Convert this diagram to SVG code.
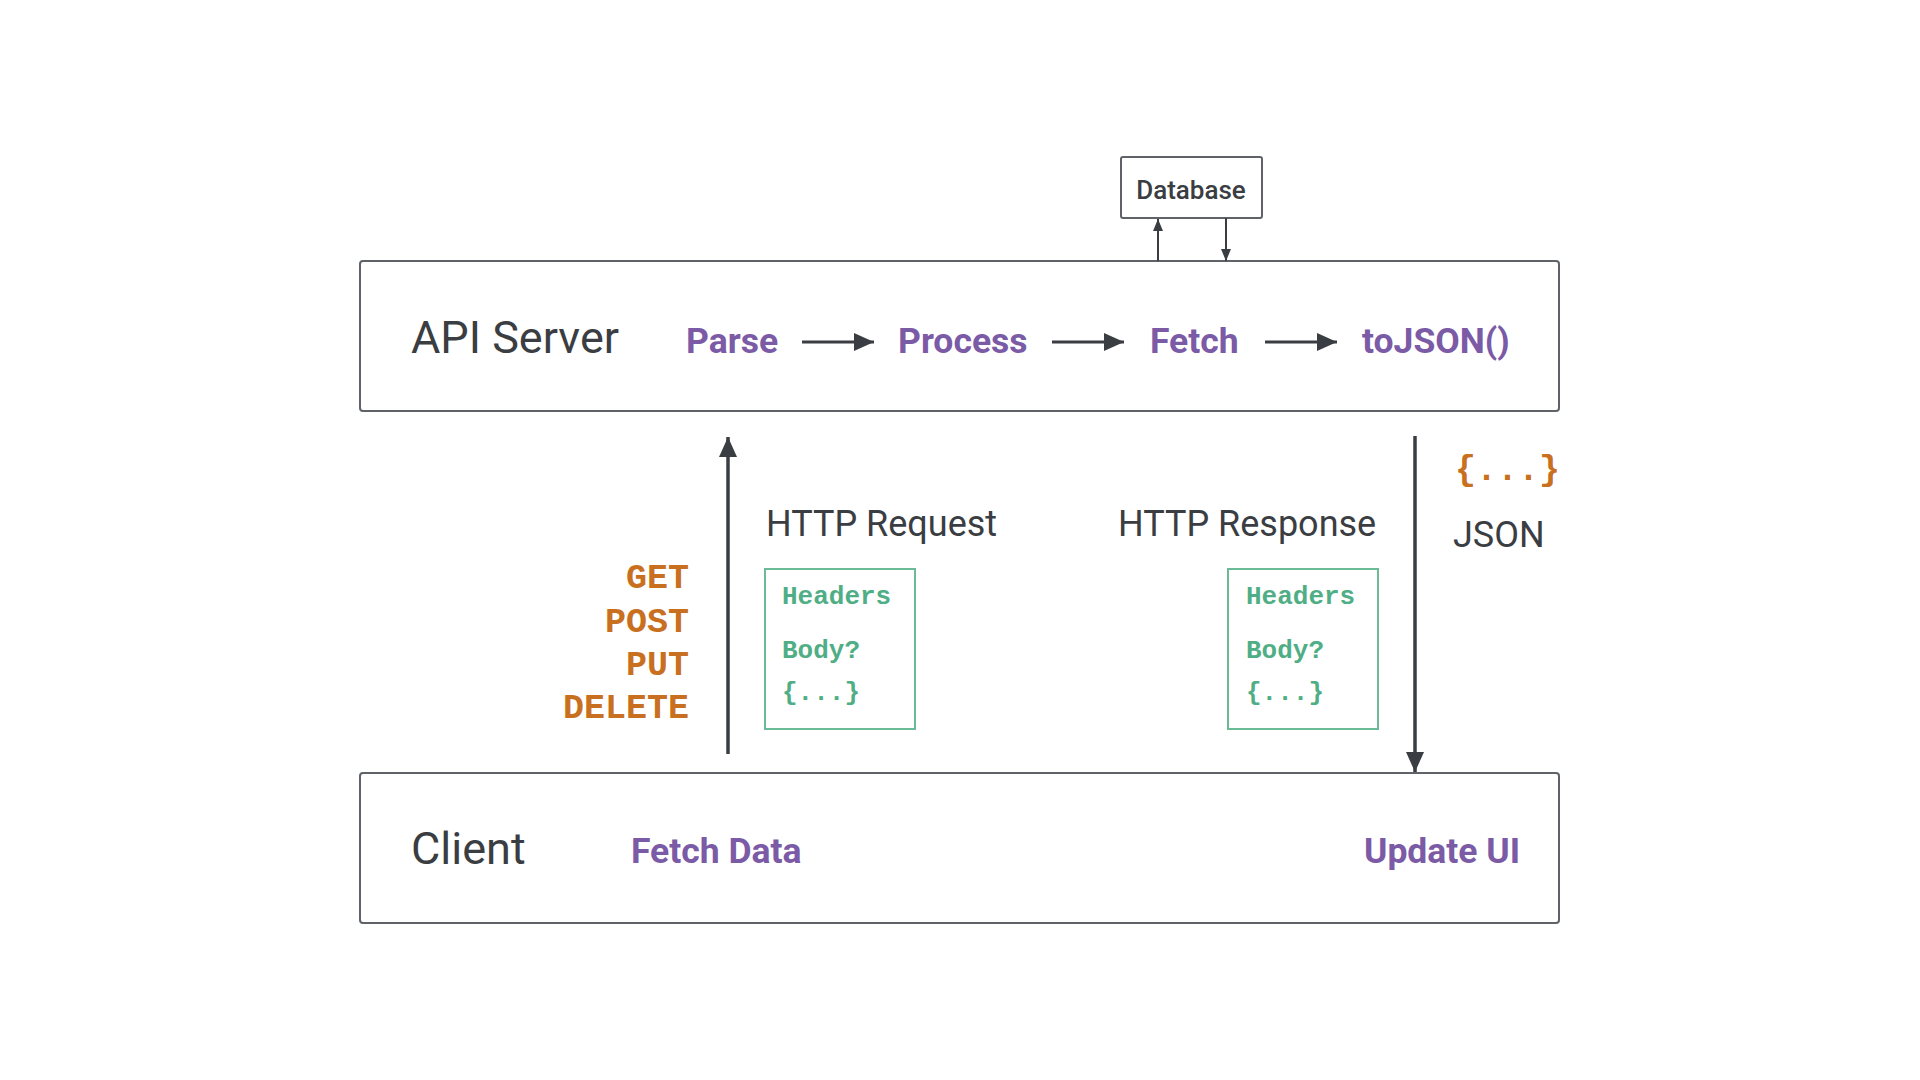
<svg xmlns="http://www.w3.org/2000/svg" width="1920" height="1080" viewBox="0 0 1920 1080">
<style>
.box{fill:#fff;stroke:#5f6368;stroke-width:2}
.gbox{fill:#fff;stroke:#6cbb98;stroke-width:2}
.title{font-family:Roboto,"Liberation Sans",sans-serif;font-size:45px;fill:#3a3d42}
.step{font-family:Roboto,"Liberation Sans",sans-serif;font-size:35.5px;font-weight:700;fill:#7b5aa6}
.lbl{font-family:Roboto,"Liberation Sans",sans-serif;font-size:36px;font-weight:400;fill:#3a3d42}
.db{font-family:Roboto,"Liberation Sans",sans-serif;font-size:26px;font-weight:500;fill:#3a3d42}
.meth{font-family:"Courier New",Courier,"Nimbus Mono PS","Nimbus Mono L",FreeMono,"Liberation Mono",monospace;font-size:35px;font-weight:700;fill:#c87020}
.code{font-family:"Courier New",Courier,"Nimbus Mono PS","Nimbus Mono L",FreeMono,"Liberation Mono",monospace;font-size:26px;font-weight:700;fill:#4fae85}
.conn{stroke:#3a3d42;fill:none}
</style>
<defs>
<marker id="ah" markerUnits="userSpaceOnUse" markerWidth="20" markerHeight="18" refX="20" refY="9" orient="auto"><path d="M0,0 L20,9 L0,18 z" fill="#3a3d42"/></marker>
<marker id="ahs" markerUnits="userSpaceOnUse" markerWidth="12" markerHeight="10" refX="12" refY="5" orient="auto"><path d="M0,0 L12,5 L0,10 z" fill="#3a3d42"/></marker>
</defs>
<g id="api-server">
<rect class="box" x="360" y="261" width="1199" height="150" rx="3"/>
<text class="title" x="411" y="353">API Server</text>
<text class="step" x="686" y="353">Parse</text>
<text class="step" x="898" y="353">Process</text>
<text class="step" x="1150" y="353">Fetch</text>
<text class="step" x="1362" y="353">toJSON()</text>
</g>
<g id="database">
<rect class="box" x="1121" y="157" width="141" height="61" rx="2"/>
<text class="db" x="1191" y="199" text-anchor="middle">Database</text>
</g>
<g id="client">
<rect class="box" x="360" y="773" width="1199" height="150" rx="3"/>
<text class="title" x="411" y="864">Client</text>
<text class="step" x="631" y="863">Fetch Data</text>
<text class="step" x="1364" y="863">Update UI</text>
</g>
<g id="http-request">
<text class="lbl" x="766" y="536">HTTP Request</text>
<rect class="gbox" x="765" y="569" width="150" height="160"/>
<text class="code" x="782" y="604">Headers</text>
<text class="code" x="782" y="658">Body?</text>
<text class="code" x="782" y="700">{...}</text>
</g>
<g id="http-response">
<text class="lbl" x="1118" y="536">HTTP Response</text>
<rect class="gbox" x="1228" y="569" width="150" height="160"/>
<text class="code" x="1246" y="604">Headers</text>
<text class="code" x="1246" y="658">Body?</text>
<text class="code" x="1246" y="700">{...}</text>
</g>
<g id="methods">
<text class="meth" x="689" y="588" text-anchor="end">GET</text>
<text class="meth" x="689" y="632" text-anchor="end">POST</text>
<text class="meth" x="689" y="675" text-anchor="end">PUT</text>
<text class="meth" x="689" y="718" text-anchor="end">DELETE</text>
</g>
<g id="json">
<text class="meth" x="1455" y="480" font-size="33">{...}</text>
<text class="lbl" x="1453" y="547">JSON</text>
</g>
<g id="connectors">
<line class="conn" stroke-width="3" x1="802" y1="342" x2="874" y2="342" marker-end="url(#ah)"/>
<line class="conn" stroke-width="3" x1="1052" y1="342" x2="1124" y2="342" marker-end="url(#ah)"/>
<line class="conn" stroke-width="3" x1="1265" y1="342" x2="1337" y2="342" marker-end="url(#ah)"/>
<line class="conn" stroke-width="2" x1="1158" y1="261" x2="1158" y2="219" marker-end="url(#ahs)"/>
<line class="conn" stroke-width="2" x1="1226" y1="218" x2="1226" y2="261" marker-end="url(#ahs)"/>
<line class="conn" stroke-width="3.5" x1="728" y1="754" x2="728" y2="437" marker-end="url(#ah)"/>
<line class="conn" stroke-width="3.5" x1="1415" y1="436" x2="1415" y2="772" marker-end="url(#ah)"/>
</g>
</svg>
